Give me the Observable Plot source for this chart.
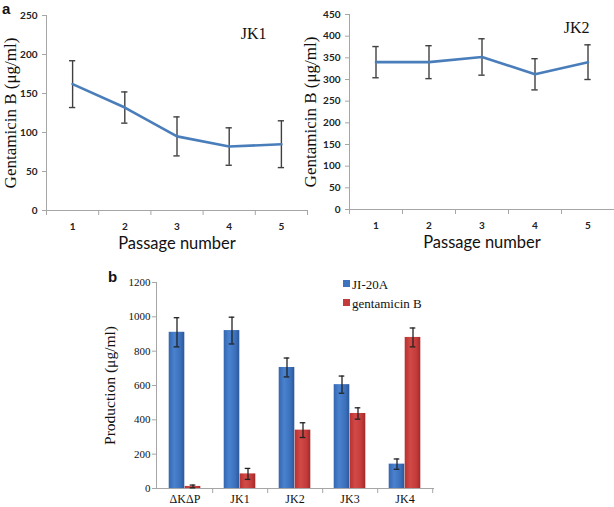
<!DOCTYPE html>
<html>
<head>
<meta charset="utf-8">
<script src="https://cdn.jsdelivr.net/npm/d3@7"></script>
<script src="https://cdn.jsdelivr.net/npm/@observablehq/plot@0.6"></script>
<style>
  html, body { margin: 0; padding: 0; background: #fff; }
  #wrap { position: relative; width: 614px; height: 507px; overflow: hidden; background: #fff; }
  #wrap > svg, #wrap > figure { position: absolute; }
  .lbl { position: absolute; white-space: nowrap; line-height: 1; }
</style>
</head>
<body>
<div id="wrap"></div>
<script>
// ---------- Data ----------
const passages = [1, 2, 3, 4, 5];
const jk1Mean = [162, 132, 95, 82, 85];
const jk1Err  = [30, 20, 25, 24, 30];
const jk2Mean = [340, 340, 352, 312, 340];
const jk2Err  = [36, 38, 42, 36, 40];
const jk1Ticks = [0, 50, 100, 150, 200, 250];
const jk2Ticks = [0, 50, 100, 150, 200, 250, 300, 350, 400, 450];

const strains = ["ΔKΔP", "JK1", "JK2", "JK3", "JK4"];
const series = ["JI-20A", "gentamicin B"];
const ji20aMean = [910, 920, 705, 605, 142];
const ji20aErr  = [85, 78, 55, 50, 30];
const gentBMean = [12, 85, 340, 437, 880];
const gentBErr  = [8, 32, 43, 33, 55];
const prodTicks = [0, 200, 400, 600, 800, 1000, 1200];
const seriesColors = ["#3d73be", "#c53b3b"];

const wrap = document.getElementById("wrap");
const sans = "Lato, 'Open Sans', sans-serif";
const serif = "'Liberation Serif', 'DejaVu Serif', serif";
const axisGray = "#a6a6a6";
const errColor = "#404040";

function place(el, left, top) {
  el.style.left = left + "px";
  el.style.top = top + "px";
  wrap.appendChild(el);
}

function lineChart({mean, err, ticks, maxY, width, height, marginLeft, marginRight, marginTop, marginBottom, title, ylabelDx, titleDx, titleDy}) {
  const data = passages.map((p, i) => ({p, v: mean[i], e: err[i]}));
  const bounds = [passages[0] - 0.5, ...passages.map(p => p + 0.5)];
  const capHalf = 0.06;
  return Plot.plot({
    width, height, marginLeft, marginRight, marginTop, marginBottom,
    style: {background: "transparent", fontFamily: sans, overflow: "visible"},
    x: {domain: [bounds[0], bounds[bounds.length - 1]]},
    y: {domain: [0, maxY]},
    marks: [
      Plot.frame({anchor: "left", stroke: axisGray}),
      Plot.frame({anchor: "bottom", stroke: axisGray}),
      Plot.axisY(ticks, {tickSize: 4, tickPadding: 5, stroke: axisGray, fill: "#222", fontSize: 10, fontWeight: "bold", label: null, fontFamily: sans, tickFormat: d => String(d)}),
      Plot.axisX(bounds, {tickSize: 5, text: null, stroke: axisGray, label: null}),
      Plot.axisX(passages, {tickSize: 0, tickPadding: 12, fill: "#222", fontSize: 10, fontWeight: "bold", label: null, fontFamily: sans}),
      Plot.ruleX(data, {x: "p", y1: d => d.v - d.e, y2: d => d.v + d.e, stroke: errColor, strokeWidth: 1.4}),
      Plot.ruleY(data, {y: d => d.v + d.e, x1: d => d.p - capHalf, x2: d => d.p + capHalf, stroke: errColor, strokeWidth: 1.4}),
      Plot.ruleY(data, {y: d => d.v - d.e, x1: d => d.p - capHalf, x2: d => d.p + capHalf, stroke: errColor, strokeWidth: 1.4}),
      Plot.line(data, {x: "p", y: "v", stroke: "#4a7ebb", strokeWidth: 2.6}),
      Plot.text(["Passage number"], {frameAnchor: "bottom", lineAnchor: "middle", dy: 33, fontSize: 16.5, fontFamily: sans, fill: "#111"}),
      Plot.text(["Gentamicin B (μg/ml)"], {frameAnchor: "left", textAnchor: "middle", lineAnchor: "middle", rotate: -90, dx: ylabelDx, fontSize: 17, fontFamily: serif, fill: "#111"}),
      Plot.text([title], {frameAnchor: "top-right", lineAnchor: "middle", dx: titleDx, dy: titleDy, fontSize: 16, fontFamily: serif, fill: "#111"})
    ]
  });
}

// Panel a, left (JK1)
const a1 = lineChart({mean: jk1Mean, err: jk1Err, ticks: jk1Ticks, maxY: 250,
  width: 310, height: 260, marginLeft: 46, marginRight: 3, marginTop: 15, marginBottom: 50,
  title: "JK1", ylabelDx: -36, titleDx: -41, titleDy: 18});
place(a1, 0, 0);

// Panel a, right (JK2)
const a2 = lineChart({mean: jk2Mean, err: jk2Err, ticks: jk2Ticks, maxY: 450,
  width: 314, height: 260, marginLeft: 49, marginRight: 0, marginTop: 14, marginBottom: 51,
  title: "JK2", ylabelDx: -39, titleDx: -25, titleDy: 13});
place(a2, 300, 0);

// Panel b (bars)
const barData = [];
strains.forEach((s, i) => {
  barData.push({s, k: series[0], v: ji20aMean[i], e: ji20aErr[i]});
  barData.push({s, k: series[1], v: gentBMean[i], e: gentBErr[i]});
});
const bW = 277 / strains.length; // band width in px (used for insets only)
const barPx = 16;
const gradIds = ["gradBlue", "gradRed"];
const side = (k) => k === series[0] ? -1 : 1;
function barMarks(k) {
  const d = barData.filter(r => r.k === k);
  const idx = series.indexOf(k);
  const sgn = side(k);
  const inL = sgn < 0 ? bW / 2 - barPx : bW / 2;
  const inR = sgn < 0 ? bW / 2 : bW / 2 - barPx;
  const capIn = bW / 2 - 3;
  return [
    Plot.barY(d, {x: "s", y: "v", fill: `url(#${gradIds[idx]})`, insetLeft: inL, insetRight: inR}),
    Plot.ruleX(d, {x: "s", y1: r => r.v - r.e, y2: r => r.v + r.e, dx: sgn * barPx / 2, stroke: "#222", strokeWidth: 1.3}),
    Plot.tickY(d, {x: "s", y: r => r.v + r.e, dx: sgn * barPx / 2, insetLeft: capIn, insetRight: capIn, stroke: "#222", strokeWidth: 1.3}),
    Plot.tickY(d, {x: "s", y: r => r.v - r.e, dx: sgn * barPx / 2, insetLeft: capIn, insetRight: capIn, stroke: "#222", strokeWidth: 1.3})
  ];
}
const b = Plot.plot({
  width: 340, height: 257, marginLeft: 56, marginRight: 7, marginTop: 32, marginBottom: 19,
  style: {background: "transparent", fontFamily: serif, overflow: "visible"},
  x: {domain: strains, padding: 0},
  y: {domain: [0, 1200]},
  marks: [
    Plot.frame({anchor: "left", stroke: axisGray}),
    Plot.frame({anchor: "bottom", stroke: axisGray}),
    Plot.axisY(prodTicks, {tickSize: 4, tickPadding: 2, stroke: axisGray, fill: "#111", fontSize: 11, label: null, fontFamily: serif, tickFormat: d => String(d)}),
    Plot.axisX(strains, {tickSize: 5, text: null, dx: bW / 2, stroke: axisGray, label: null}),
    Plot.axisX(strains, {tickSize: 0, tickPadding: 6, fill: "#111", fontSize: 12, label: null, fontFamily: serif}),
    ...barMarks(series[0]),
    ...barMarks(series[1]),
    Plot.text(["Production (μg/ml)"], {frameAnchor: "left", textAnchor: "middle", lineAnchor: "middle", rotate: -90, dx: -46, fontSize: 15.5, fontFamily: serif, fill: "#111"})
  ]
});
// gradients for the bars (horizontal shading like the original)
const gradStops = [
  [["0%", "#3466b0"], ["35%", "#4a82cf"], ["75%", "#3b70bb"], ["100%", "#2b5799"]],
  [["0%", "#b8312f"], ["35%", "#d24a48"], ["75%", "#c33b3a"], ["100%", "#a02a29"]]
];
const defs = d3.select(b).insert("defs", ":first-child");
gradIds.forEach((id, i) => {
  const g = defs.append("linearGradient").attr("id", id).attr("x1", "0").attr("x2", "1").attr("y1", "0").attr("y2", "0");
  gradStops[i].forEach(([o, c]) => g.append("stop").attr("offset", o).attr("stop-color", c));
});
place(b, 100, 250);

// Panel letters
function label(text, left, top, css) {
  const d = document.createElement("div");
  d.className = "lbl";
  d.textContent = text;
  Object.assign(d.style, css);
  place(d, left, top);
  return d;
}
label("a", 2, 0, {font: "bold 15px 'Liberation Sans', Arial, sans-serif", color: "#111"});
label("b", 108, 268, {font: "bold 15px 'Liberation Sans', Arial, sans-serif", color: "#111"});

// Legend
series.forEach((s, i) => {
  const sw = document.createElement("div");
  sw.className = "lbl";
  Object.assign(sw.style, {width: "7px", height: "7px", background: seriesColors[i]});
  place(sw, 343, 280 + i * 19);
  label(s, 352, 277 + i * 19, {font: "13px " + serif, color: "#111"});
});
</script>
</body>
</html>
